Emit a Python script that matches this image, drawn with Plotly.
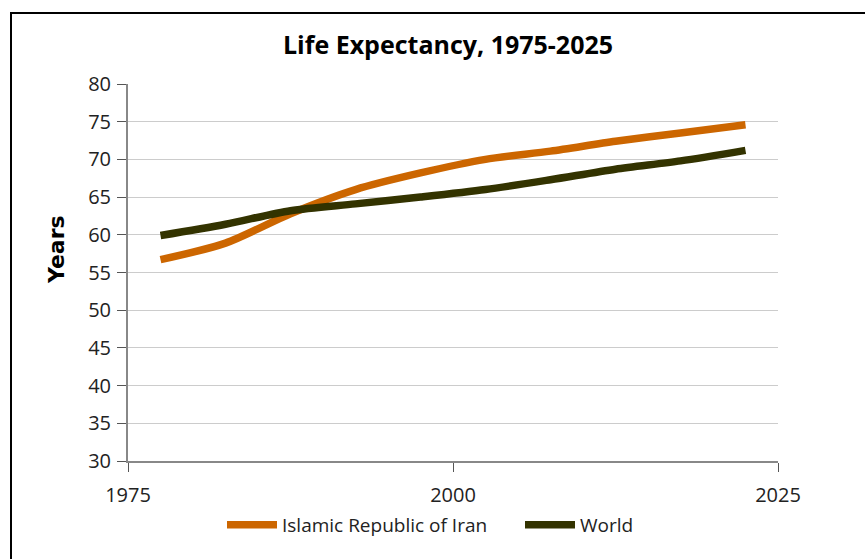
import plotly.graph_objects as go

years = [1977.5, 1982.5, 1987.5, 1992.5, 1997.5, 2002.5, 2007.5, 2012.5, 2017.5, 2022.5]
iran = [56.7, 58.9, 62.8, 66.0, 68.2, 70.0, 71.1, 72.4, 73.5, 74.6]
world = [59.9, 61.4, 63.2, 64.1, 65.0, 66.0, 67.3, 68.7, 69.8, 71.2]
series_names = ["Islamic Republic of Iran", "World"]
series_colors = ["#CC6600", "#333300"]
x_ticks = [1975, 2000, 2025]
y_ticks = list(range(30, 81, 5))

fig = go.Figure()
for i, (name, vals, col) in enumerate(zip(series_names, [iran, world], series_colors)):
    fig.add_trace(go.Scatter(x=years, y=vals, name=name, mode="lines",
                             legend="legend" if i == 0 else "legend2",
                             line=dict(color=col, width=7.5, shape="spline", smoothing=0.8)))

W, H = 865, 559
L, R, T, B = 128, 87, 84, 98
pw, ph = W - L - R, H - T - B

def px(x):
    return (x - L) / pw

def py(y):
    return (H - B - y) / ph

fig.add_shape(type="rect", xref="paper", yref="paper",
              x0=px(11), x1=px(880), y0=py(13), y1=py(580),
              line=dict(color="black", width=2), fillcolor="rgba(0,0,0,0)", layer="below")

fig.add_annotation(text="<b>Years</b>", xref="paper", yref="paper", x=px(56), y=py(250),
                   textangle=-90, showarrow=False, xanchor="center", yanchor="middle",
                   font=dict(family="DejaVu Sans, sans-serif", size=22, color="black"))

FONT = "Open Sans, Noto Sans, sans-serif"
tick_font = dict(family=FONT, size=20, color="#222")
leg_font = dict(family=FONT, size=19, color="#222")

fig.update_layout(
    width=W, height=H,
    margin=dict(l=L, r=R, t=T, b=B, autoexpand=False),
    paper_bgcolor="white", plot_bgcolor="white",
    title=dict(text="<b>Life Expectancy, 1975-2025</b>", x=448 / W, xanchor="center",
               y=1 - 45 / H, yanchor="middle",
               font=dict(family=FONT, size=25, color="black")),
    xaxis=dict(range=[1975, 2025], tickvals=x_ticks, showgrid=False,
               showline=True, linecolor="#888", linewidth=2,
               ticks="outside", ticklen=9, tickcolor="#555", tickwidth=1,
               tickfont=tick_font, ticklabelstandoff=6, zeroline=False),
    yaxis=dict(range=[30, 80], tickvals=y_ticks, showgrid=True, gridcolor="#cccccc", gridwidth=1,
               showline=True, linecolor="#888", linewidth=2,
               ticks="outside", ticklen=9, tickcolor="#555", tickwidth=1,
               tickfont=tick_font, ticklabelstandoff=2, zeroline=False),
    legend=dict(orientation="h", x=px(222), xanchor="left", y=py(525), yanchor="middle",
                font=leg_font, itemwidth=50, bgcolor="rgba(0,0,0,0)"),
    legend2=dict(orientation="h", x=px(520), xanchor="left", y=py(525), yanchor="middle",
                 font=leg_font, itemwidth=50, bgcolor="rgba(0,0,0,0)"),
    showlegend=True,
)

fig.write_html("out.html", post_script="document.body.style.margin='0';",
               config={"displayModeBar": False})
